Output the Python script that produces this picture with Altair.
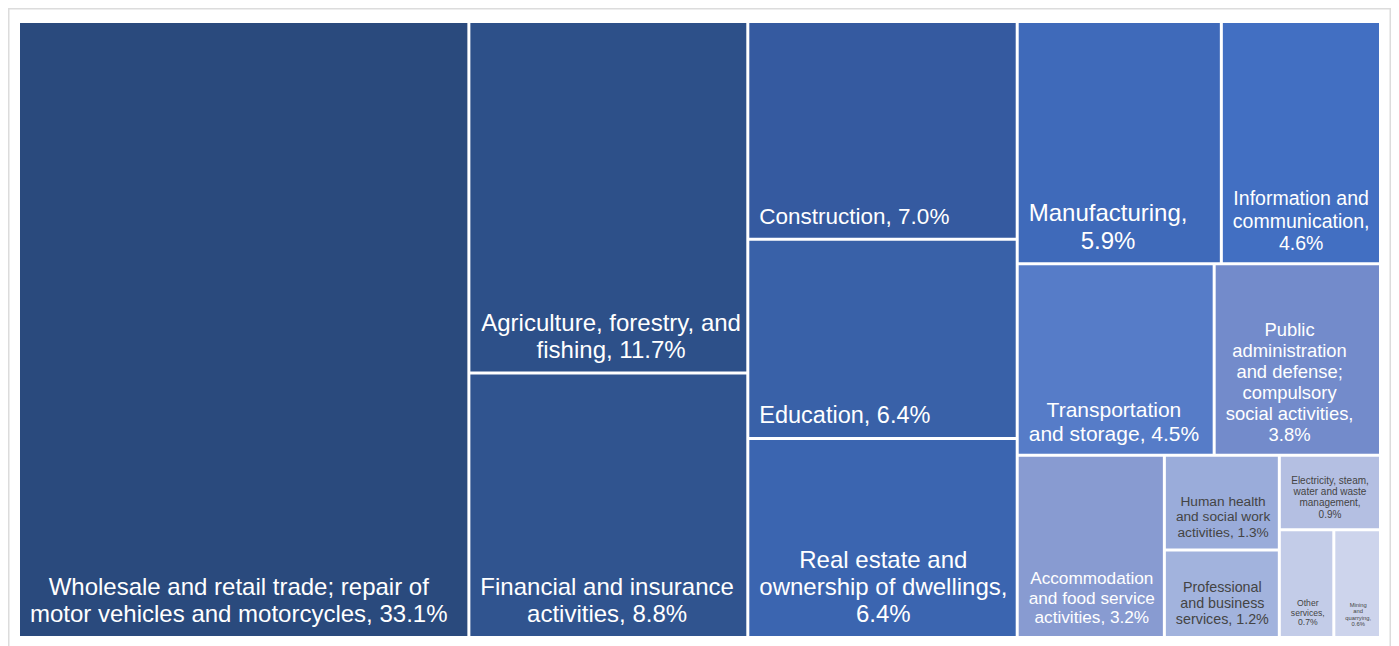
import altair as alt
import pandas as pd

# ---------------- data ----------------
names = [
    "Wholesale and retail trade; repair of motor vehicles and motorcycles",
    "Agriculture, forestry, and fishing",
    "Financial and insurance activities",
    "Construction",
    "Education",
    "Real estate and ownership of dwellings",
    "Manufacturing",
    "Information and communication",
    "Transportation and storage",
    "Public administration and defense; compulsory social activities",
    "Accommodation and food service activities",
    "Human health and social work activities",
    "Professional and business services",
    "Electricity, steam, water and waste management",
    "Other services",
    "Mining and quarrying",
]
values = [33.1, 11.7, 8.8, 7.0, 6.4, 6.4, 5.9, 4.6, 4.5, 3.8, 3.2, 1.3, 1.2, 0.9, 0.7, 0.6]
label_lines = [
    ["Wholesale and retail trade; repair of", "motor vehicles and motorcycles, {p}"],
    ["Agriculture, forestry, and", "fishing, {p}"],
    ["Financial and insurance", "activities, {p}"],
    ["Construction, {p}"],
    ["Education, {p}"],
    ["Real estate and", "ownership of dwellings,", "{p}"],
    ["Manufacturing,", "{p}"],
    ["Information and", "communication,", "{p}"],
    ["Transportation", "and storage, {p}"],
    ["Public", "administration", "and defense;", "compulsory", "social activities,", "{p}"],
    ["Accommodation", "and food service", "activities, {p}"],
    ["Human health", "and social work", "activities, {p}"],
    ["Professional", "and business", "services, {p}"],
    ["Electricity, steam,", "water and waste", "management,", "{p}"],
    ["Other", "services,", "{p}"],
    ["Mining", "and", "quarrying,", "{p}"],
]

# ---------------- styles ----------------
palette = [
    "#2a4a7d", "#2d5089", "#30548f", "#355aa0", "#3961a8", "#3b65b0",
    "#3f6aba", "#426fc2", "#567cc8", "#738bcb", "#889bd1", "#9aacda",
    "#a2b3dd", "#b4bfe2", "#c3cce8", "#cdd4ec",
]
font_sizes = [24, 24, 24, 22.5, 23.5, 24, 24, 19.5, 21, 18.4, 17.2, 13.7, 14.3, 10, 8.6, 5.8]
text_colors = ["#ffffff"] * 11 + ["#444444"] * 5
LINE_H = 1.14

SVG_W, SVG_H = 1383, 640
X0, Y0, X1, Y1 = 10.5, 13.5, 1372.5, 629.5
GAP = 3.0
PAD_X = 10.0

# Arial / Liberation Sans advance widths (per 1000 em)
AW = {" ": 278, ",": 278, ".": 278, ";": 278, "%": 889,
      "A": 667, "C": 722, "E": 667, "F": 611, "H": 722, "I": 278, "M": 833,
      "O": 778, "P": 667, "R": 722, "T": 611, "W": 944,
      "a": 556, "b": 556, "c": 500, "d": 556, "e": 556, "f": 278, "g": 556,
      "h": 556, "i": 222, "j": 222, "k": 500, "l": 222, "m": 833, "n": 556,
      "o": 556, "p": 556, "q": 556, "r": 333, "s": 500, "t": 278, "u": 556,
      "v": 500, "w": 722, "x": 500, "y": 500, "z": 500}


def text_em(s):
    return sum(AW.get(ch, 556) for ch in s) / 1000.0


def squarify(vals, x0, y0, x1, y1):
    """Squarified treemap (ratio 1); the final node always joins the last row."""
    n = len(vals)
    rects = [None] * n
    i0 = 0
    while i0 < n:
        dx, dy = x1 - x0, y1 - y0
        remaining = sum(vals[i0:])
        alpha = max(dy / dx, dx / dy) / remaining
        s = vals[i0]
        mn = mx = s
        beta = s * s * alpha
        best = max(mx / beta, beta / mn)
        i1 = i0 + 1
        while i1 < n:
            v = vals[i1]
            s2 = s + v
            b = s2 * s2 * alpha
            r = max(max(mx, v) / b, b / min(mn, v))
            if r > best and i1 < n - 1:
                break
            s, mn, mx, best = s2, min(mn, v), max(mx, v), r
            i1 += 1
        if dx < dy:
            h = dy * s / remaining
            cx = x0
            for i in range(i0, i1):
                w = dx * vals[i] / s
                rects[i] = (cx, y0, cx + w, y0 + h)
                cx += w
            y0 += h
        else:
            w = dx * s / remaining
            cy = y0
            for i in range(i0, i1):
                h = dy * vals[i] / s
                rects[i] = (x0, cy, x0 + w, cy + h)
                cy += h
            x0 += w
        i0 = i1
    return rects


rects = squarify(values, X0, Y0, X1, Y1)

rows = []
for i, name in enumerate(names):
    a, b, c, d = rects[i]
    cx0, cy0, cx1, cy1 = a + GAP / 2, b + GAP / 2, c - GAP / 2, d - GAP / 2
    pct = f"{values[i]:.1f}%"
    lines = [ln.format(p=pct) for ln in label_lines[i]]
    fs = font_sizes[i]
    lh = fs * LINE_H
    block_w = max(text_em(ln) for ln in lines) * fs
    rows.append({
        "name": name, "value": values[i],
        "x0": cx0, "x1": cx1, "y0": cy0, "y1": cy1,
        "tx": cx0 + PAD_X + block_w / 2,
        # first line anchor: block sits on the cell's bottom edge
        "ty": cy1 - (len(lines) - 1) * lh,
        "label": lines, "fs": fs, "lh": lh, "tc": text_colors[i],
    })

df = pd.DataFrame(rows)

xs = alt.Scale(domain=[0, SVG_W], nice=False, zero=False)
ys = alt.Scale(domain=[0, SVG_H], nice=False, zero=False, reverse=True)

base = alt.Chart(df)

cells = base.mark_rect(stroke=None).encode(
    x=alt.X("x0:Q", scale=xs, axis=None),
    x2="x1:Q",
    y=alt.Y("y0:Q", scale=ys, axis=None),
    y2="y1:Q",
    color=alt.Color("name:N", scale=alt.Scale(domain=names, range=palette), legend=None),
    tooltip=["name:N", "value:Q"],
)

labels = base.mark_text(
    align="center", baseline="bottom", dy=-8.5,
    font="Liberation Sans, Arial, sans-serif",
    lineHeight={"expr": "datum.lh"},
).encode(
    x=alt.X("tx:Q", scale=xs, axis=None),
    y=alt.Y("ty:Q", scale=ys, axis=None),
    text="label",
    size=alt.Size("fs:Q", scale=None, legend=None),
    color=alt.Color("tc:N", scale=None, legend=None),
)

frame = alt.Chart(pd.DataFrame({"k": [0]})).mark_rect(
    fill=None, stroke="#dcdcdc", strokeWidth=1.5
).encode(
    x=alt.value(0.75), x2=alt.value(SVG_W - 0.75),
    y=alt.value(0.75), y2=alt.value(SVG_H + 20),
)

chart = alt.layer(frame, cells, labels).properties(
    width=SVG_W, height=SVG_H,
    autosize=alt.AutoSizeParams(type="none"),
    padding=0,
).configure_view(stroke=None)

chart.save("out.html", embed_options={"renderer": "svg", "actions": False})
